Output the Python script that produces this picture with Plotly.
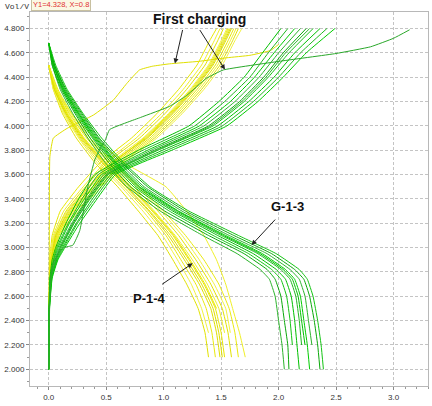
import plotly.graph_objects as go

# ---------------- data ----------------
# P-1-4 (yellow) charge curves: common voltage grid, capacity per curve
yc_volt = [2.35, 2.6, 2.9, 3.1, 3.3, 3.5, 3.7, 3.9, 4.1, 4.3, 4.5, 4.7, 4.8]
yc_caps = [
    [0, 0.003, 0.01, 0.03, 0.10, 0.26, 0.45, 0.72, 0.94, 1.13, 1.29, 1.40, 1.46],
    [0, 0.004, 0.015, 0.04, 0.13, 0.30, 0.49, 0.76, 0.98, 1.17, 1.33, 1.44, 1.49],
    [0, 0.004, 0.02, 0.05, 0.15, 0.32, 0.51, 0.79, 1.01, 1.20, 1.36, 1.47, 1.52],
    [0, 0.005, 0.02, 0.05, 0.16, 0.34, 0.54, 0.82, 1.04, 1.23, 1.39, 1.50, 1.55],
    [0, 0.005, 0.02, 0.06, 0.18, 0.36, 0.56, 0.84, 1.06, 1.25, 1.41, 1.52, 1.57],
    [0, 0.006, 0.03, 0.07, 0.19, 0.38, 0.58, 0.86, 1.08, 1.27, 1.43, 1.54, 1.59],
    [0, 0.006, 0.03, 0.08, 0.21, 0.40, 0.60, 0.88, 1.10, 1.29, 1.45, 1.56, 1.61],
    [0, 0.007, 0.03, 0.08, 0.22, 0.42, 0.62, 0.90, 1.12, 1.31, 1.47, 1.58, 1.63],
    [0, 0.008, 0.04, 0.09, 0.24, 0.44, 0.64, 0.92, 1.14, 1.33, 1.49, 1.60, 1.65],
    [0, 0.009, 0.04, 0.10, 0.26, 0.46, 0.66, 0.94, 1.16, 1.35, 1.51, 1.62, 1.68],
    [0, 0.006, 0.02, 0.07, 0.20, 0.39, 0.57, 0.83, 1.05, 1.24, 1.40, 1.51, 1.56],
    [0, 0.005, 0.025, 0.06, 0.17, 0.35, 0.55, 0.85, 1.07, 1.26, 1.42, 1.53, 1.58],
]

# P-1-4 (yellow) discharge curves
yd_volt = [4.5, 4.3, 4.1, 3.9, 3.7, 3.5, 3.3, 3.1, 2.9, 2.7, 2.5, 2.3, 2.1]
yd_caps = [
    [0, 0.04, 0.12, 0.24, 0.40, 0.60, 0.78, 0.95, 1.08, 1.20, 1.30, 1.36, 1.39],
    [0, 0.04, 0.13, 0.26, 0.42, 0.63, 0.82, 0.99, 1.12, 1.24, 1.33, 1.39],
    [0, 0.05, 0.14, 0.27, 0.44, 0.65, 0.85, 1.02, 1.15, 1.28, 1.37, 1.42, 1.45],
    [0, 0.05, 0.15, 0.28, 0.46, 0.67, 0.87, 1.04, 1.18, 1.31, 1.41, 1.46, 1.49],
    [0, 0.06, 0.16, 0.30, 0.48, 0.70, 0.90, 1.08, 1.22, 1.35, 1.45, 1.50, 1.53],
    [0, 0.06, 0.17, 0.31, 0.50, 0.72, 0.92, 1.10, 1.25, 1.38, 1.48, 1.53],
    [0, 0.07, 0.18, 0.33, 0.52, 0.74, 0.95, 1.13, 1.28, 1.41, 1.51, 1.56, 1.59],
    [0, 0.07, 0.19, 0.34, 0.54, 0.77, 0.98, 1.16, 1.31, 1.44, 1.54, 1.58],
    [0, 0.08, 0.20, 0.36, 0.56, 0.79, 1.00, 1.19, 1.35, 1.48, 1.57, 1.62, 1.65],
    [0, 0.05, 0.15, 0.29, 0.47, 0.68, 0.88, 1.06, 1.20, 1.33, 1.43, 1.48, 1.51],
    [0, 0.06, 0.16, 0.30, 0.49, 0.71, 0.91, 1.09, 1.23, 1.36, 1.46],
    [0, 0.07, 0.20, 0.40, 0.65, 1.02, 1.20, 1.35, 1.46, 1.54, 1.60, 1.66, 1.71],
]

# G-1-3 (green) charge curves
gc_volt = [2.0, 2.5, 2.75, 2.9, 3.0, 3.2, 3.4, 3.6, 3.8, 4.0, 4.2, 4.4, 4.6, 4.8]
gc_caps = [
    [0, 0.003, 0.01, 0.03, 0.06, 0.15, 0.26, 0.40, 0.78, 1.22, 1.48, 1.70, 1.86, 2.02],
    [0, 0.003, 0.012, 0.04, 0.07, 0.17, 0.29, 0.43, 0.82, 1.27, 1.53, 1.75, 1.91, 2.08],
    [0, 0.004, 0.015, 0.045, 0.08, 0.18, 0.31, 0.46, 0.86, 1.31, 1.58, 1.79, 1.96, 2.14],
    [0, 0.004, 0.018, 0.05, 0.09, 0.20, 0.33, 0.48, 0.89, 1.35, 1.62, 1.83, 2.00, 2.19],
    [0, 0.005, 0.02, 0.06, 0.10, 0.21, 0.34, 0.50, 0.92, 1.39, 1.66, 1.87, 2.04, 2.24],
    [0, 0.005, 0.022, 0.065, 0.11, 0.22, 0.36, 0.52, 0.95, 1.43, 1.70, 1.91, 2.09, 2.30],
    [0, 0.006, 0.025, 0.07, 0.12, 0.24, 0.38, 0.54, 0.99, 1.47, 1.74, 1.96, 2.14, 2.36],
    [0, 0.006, 0.028, 0.075, 0.13, 0.25, 0.40, 0.56, 1.03, 1.51, 1.78, 2.00, 2.19, 2.42],
    [0, 0.007, 0.03, 0.08, 0.14, 0.27, 0.42, 0.58, 1.07, 1.55, 1.82, 2.04, 2.24, 2.49],
    [0, 0.005, 0.02, 0.06, 0.10, 0.22, 0.35, 0.51, 0.94, 1.41, 1.68, 1.89, 2.06, 2.27],
]

# G-1-3 (green) discharge curves
gd_volt = [4.68, 4.5, 4.3, 4.1, 3.9, 3.7, 3.5, 3.3, 3.1, 2.95, 2.82, 2.74, 2.6, 2.4, 2.2, 2.0]
gd_caps = [
    [0, 0.03, 0.10, 0.21, 0.34, 0.49, 0.68, 0.97, 1.34, 1.64, 1.84, 1.92, 1.97, 2.00, 2.03, 2.05],
    [0, 0.03, 0.11, 0.23, 0.36, 0.52, 0.71, 1.01, 1.39, 1.70, 1.90, 1.97, 2.02, 2.05, 2.08, 2.09],
    [0, 0.04, 0.12, 0.24, 0.38, 0.54, 0.74, 1.05, 1.43, 1.74, 1.94, 2.02, 2.07, 2.10, 2.12],
    [0, 0.04, 0.12, 0.25, 0.39, 0.56, 0.76, 1.08, 1.47, 1.78, 1.98, 2.06, 2.11, 2.14, 2.16, 2.18],
    [0, 0.04, 0.13, 0.26, 0.40, 0.57, 0.78, 1.10, 1.50, 1.82, 2.02, 2.10, 2.15, 2.18, 2.20],
    [0, 0.05, 0.14, 0.27, 0.42, 0.59, 0.81, 1.13, 1.54, 1.86, 2.06, 2.14, 2.19, 2.22, 2.25, 2.27],
    [0, 0.05, 0.14, 0.28, 0.43, 0.61, 0.83, 1.16, 1.57, 1.90, 2.10, 2.18, 2.23, 2.26, 2.29],
    [0, 0.05, 0.15, 0.29, 0.44, 0.63, 0.86, 1.19, 1.61, 1.94, 2.14, 2.22, 2.27, 2.31, 2.34, 2.36],
    [0, 0.06, 0.16, 0.30, 0.46, 0.65, 0.88, 1.22, 1.65, 1.98, 2.18, 2.25, 2.30, 2.34, 2.37, 2.39],
    [0, 0.04, 0.13, 0.26, 0.41, 0.58, 0.79, 1.12, 1.52, 1.84, 2.04, 2.12, 2.17, 2.20, 2.23],
]

# First charging curves
y_first_cap = [0, 0.005, 0.01, 0.04, 0.16, 0.39, 0.56, 0.68, 0.79, 0.90, 1.05, 1.30, 1.55, 1.75, 1.93, 2.0]
y_first_volt = [2.0, 3.0, 3.75, 3.9, 3.98, 4.09, 4.21, 4.35, 4.46, 4.49, 4.51, 4.53, 4.56, 4.58, 4.62, 4.67]
g_first_cap = [0, 0.01, 0.03, 0.08, 0.13, 0.21, 0.27, 0.34, 0.40, 0.45, 0.49, 0.53, 0.80, 1.05, 1.20,
               1.37, 1.52, 2.0, 2.5, 2.8, 3.0, 3.14]
g_first_volt = [2.0, 2.6, 2.85, 2.95, 3.0, 3.02, 3.14, 3.5, 3.72, 3.82, 3.88, 3.97, 4.07, 4.16, 4.25,
                4.39, 4.46, 4.53, 4.595, 4.65, 4.72, 4.79]

x_tickvals = [0.0, 0.5, 1.0, 1.5, 2.0, 2.5, 3.0]
x_ticktext = ["0.0", "0.5", "1.0", "1.5", "2.0", "2.5", "3.0"]
y_tickvals = [2.0, 2.2, 2.4, 2.6, 2.8, 3.0, 3.2, 3.4, 3.6, 3.8, 4.0, 4.2, 4.4, 4.6, 4.8]
y_ticktext = ["%.3f" % v for v in y_tickvals]

# ---------------- styles ----------------
yellows = ["#e8e800", "#f0f028", "#e2e200", "#f2f240", "#eaea10", "#dede00"]
greens = ["#00c000", "#1fb81f", "#00cc00", "#2cb42c", "#0aa80a", "#14c414"]

fig = go.Figure()

def add(xs, ys, color, width=1.0):
    n = min(len(xs), len(ys))
    fig.add_trace(go.Scatter(x=xs[:n], y=ys[:n], mode="lines",
                             line=dict(color=color, width=width, shape="spline", smoothing=0.35),
                             hoverinfo="skip", showlegend=False))

for i, caps in enumerate(yc_caps):
    add(caps, yc_volt, yellows[i % len(yellows)])
for i, caps in enumerate(yd_caps):
    add(caps, yd_volt, yellows[(i + 2) % len(yellows)])
add(y_first_cap, y_first_volt, "#e0e000")
for i, caps in enumerate(gc_caps):
    add(caps, gc_volt, greens[i % len(greens)])
for i, caps in enumerate(gd_caps):
    add(caps, gd_volt, greens[(i + 3) % len(greens)])
add(g_first_cap, g_first_volt, "#2aa82a")

tickfont = dict(family="Liberation Sans, Arial", size=8, color="#333333")
fig.update_xaxes(range=[-0.163, 3.30], tickvals=x_tickvals, ticktext=x_ticktext,
                 showgrid=True, gridcolor="#c4c4c4", griddash="3px,2px", gridwidth=1,
                 showline=True, linecolor="#b8b8b8", linewidth=1, mirror=True,
                 ticks="outside", ticklen=3, tickcolor="#888888",
                 minor=dict(dtick=0.1, tick0=0, ticks="outside", ticklen=2, tickcolor="#999999", showgrid=False),
                 zeroline=False, tickfont=tickfont)
fig.update_yaxes(range=[1.863, 4.936], tickvals=y_tickvals, ticktext=y_ticktext,
                 showgrid=True, gridcolor="#c4c4c4", griddash="3px,2px", gridwidth=1,
                 showline=True, linecolor="#b8b8b8", linewidth=1, mirror=True,
                 ticks="outside", ticklen=3, tickcolor="#888888",
                 minor=dict(dtick=0.1, tick0=2.0, ticks="outside", ticklen=2, tickcolor="#999999", showgrid=False),
                 zeroline=False, tickfont=tickfont)

lab = dict(family="Liberation Sans, Arial", size=14, color="#111111")
ann = [
    dict(x=1.316, y=4.88, xref="x", yref="y", text="<b>First charging</b>", showarrow=False,
         font=lab),
    dict(x=2.081, y=3.334, xref="x", yref="y", text="<b>G-1-3</b>", showarrow=False,
         font=dict(family="Liberation Sans, Arial", size=13, color="#111111")),
    dict(x=0.881, y=2.586, xref="x", yref="y", text="<b>P-1-4</b>", showarrow=False,
         font=dict(family="Liberation Sans, Arial", size=13, color="#111111")),
    dict(x=1.098, y=4.513, xref="x", yref="y", ax=8, ay=-35, text="", showarrow=True,
         arrowhead=2, arrowsize=1, arrowwidth=1, arrowcolor="#222222", standoff=0),
    dict(x=1.533, y=4.463, xref="x", yref="y", ax=-26, ay=-41, text="", showarrow=True,
         arrowhead=2, arrowsize=1, arrowwidth=1, arrowcolor="#222222", standoff=0),
    dict(x=1.765, y=3.021, xref="x", yref="y", ax=25, ay=-27, text="", showarrow=True,
         arrowhead=2, arrowsize=1, arrowwidth=1, arrowcolor="#222222", standoff=0),
    dict(x=1.252, y=2.871, xref="x", yref="y", ax=-32, ay=22, text="", showarrow=True,
         arrowhead=2, arrowsize=1, arrowwidth=1, arrowcolor="#222222", standoff=0),
    dict(x=-0.0327, y=1.0134, xref="paper", yref="paper", xanchor="center", yanchor="middle",
         text="Vol/V", showarrow=False,
         font=dict(family="Liberation Mono, DejaVu Sans Mono", size=8, color="#333333")),
    dict(x=0.079, y=1.020, xref="paper", yref="paper", xanchor="center", yanchor="middle",
         text="Y1=4.328, X=0.8", showarrow=False,
         font=dict(family="Liberation Sans, Arial", size=7.5, color="#e03030"),
         bgcolor="#fbf8e4", bordercolor="#c8c0a0", borderwidth=1, borderpad=1),
    dict(x=0.4925, y=-0.043, xref="paper", yref="paper", xanchor="center", yanchor="top",
         text="Cap/Ah", showarrow=False,
         font=dict(family="Liberation Mono, DejaVu Sans Mono", size=8, color="#333333")),
]

fig.update_layout(width=432, height=406, margin=dict(l=30, r=4, t=12, b=20),
                  paper_bgcolor="white", plot_bgcolor="white", annotations=ann,
                  showlegend=False)

fig.write_html("out.html")
